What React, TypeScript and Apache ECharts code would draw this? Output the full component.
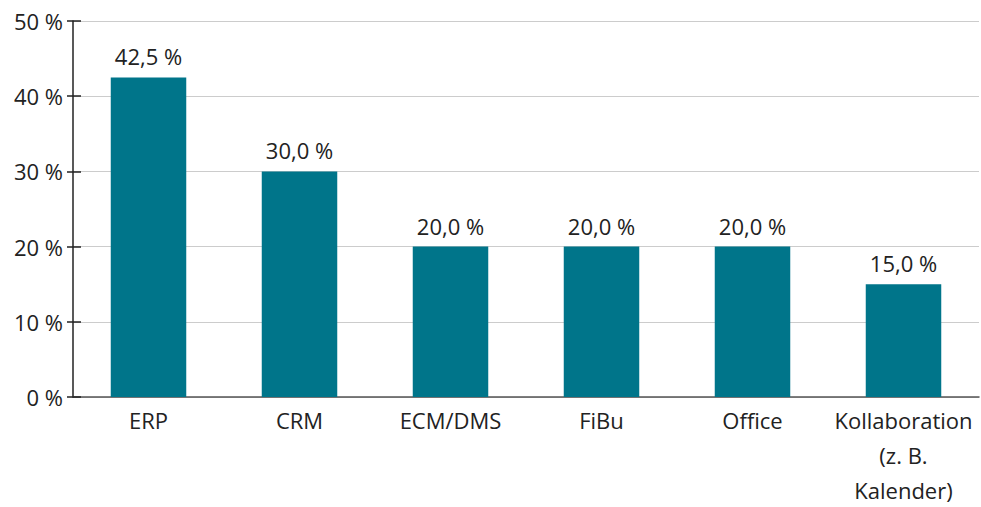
import React, { useEffect, useRef } from "react";
import * as echarts from "echarts";

const categories = ["ERP", "CRM", "ECM/DMS", "FiBu", "Office", "Kollaboration\n(z. B.\nKalender)"];
const values = [42.5, 30.0, 20.0, 20.0, 20.0, 15.0];
const yTicks = [0, 10, 20, 30, 40, 50];

const FONT = "'Open Sans', 'Noto Sans', sans-serif";

export default function App() {
  const ref = useRef<HTMLDivElement>(null);
  useEffect(() => {
    if (!ref.current) return;
    const chart = echarts.init(ref.current, null, { renderer: "svg" });
    chart.setOption({
      animation: false,
      grid: { left: 73, right: 2, top: 21, bottom: 109 },
      xAxis: {
        type: "category",
        data: categories,
        axisLine: { show: true, lineStyle: { color: "#555", width: 1.5 } },
        axisTick: { show: false },
        axisLabel: {
          interval: 0,
          color: "#222",
          fontSize: 22,
          fontFamily: FONT,
          lineHeight: 35,
          margin: 5,
        },
      },
      yAxis: [
        {
          type: "value",
          min: yTicks[0],
          max: yTicks[yTicks.length - 1],
          interval: 10,
          axisLine: { show: true, lineStyle: { color: "#222", width: 1.5 } },
          axisTick: { show: true, length: 6, lineStyle: { color: "#222", width: 1.5 } },
          splitLine: { show: true, lineStyle: { color: "#ccc", width: 1 } },
          axisLabel: {
            color: "#222",
            fontSize: 22,
            fontFamily: FONT,
            margin: 10,
            formatter: (v: number) => v + " %",
          },
        },
        {
          type: "value",
          position: "left",
          min: yTicks[0],
          max: yTicks[yTicks.length - 1],
          interval: 10,
          axisLine: { show: false },
          axisTick: { show: true, inside: true, length: 8, lineStyle: { color: "#222", width: 1.5 } },
          splitLine: { show: false },
          axisLabel: { show: false },
        },
      ],
      series: [
        {
          type: "bar",
          data: values,
          barWidth: "50%",
          itemStyle: { color: "#00758a" },
          label: {
            show: true,
            position: "top",
            distance: 10,
            color: "#222",
            fontSize: 22,
            fontFamily: FONT,
            formatter: (p: any) => p.value.toFixed(1).replace(".", ",") + " %",
          },
        },
      ],
    });
    return () => chart.dispose();
  }, []);
  return <div ref={ref} style={{ position: "absolute", left: 0, top: 0, width: 981, height: 507 }} />;
}
